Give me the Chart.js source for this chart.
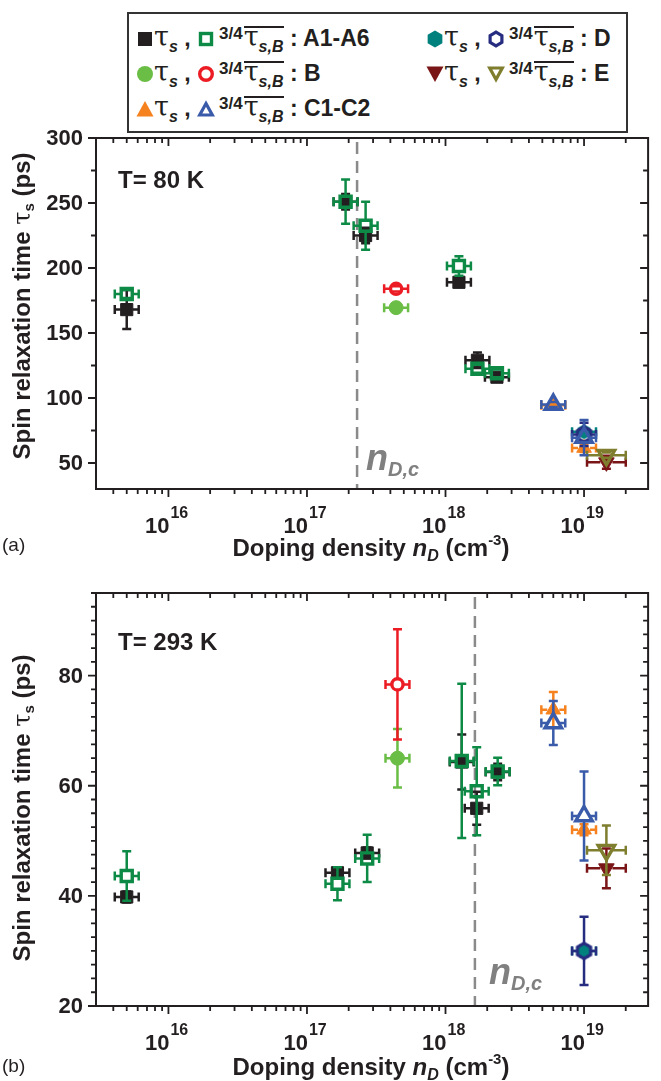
<!DOCTYPE html>
<html>
<head>
<meta charset="utf-8">
<script src="https://cdn.jsdelivr.net/npm/chart.js@4.4.0/dist/chart.umd.min.js"></script>
<style>
  body { margin: 0; background: #fff; }
  #page { position: relative; width: 661px; height: 1081px; overflow: hidden; color: #231f20;
          font-family: "Liberation Sans", Arial, sans-serif; }
  canvas { position: absolute; left: 0; }
  #chartA { top: 0; }
  #chartB { top: 575px; }
  .txt { position: absolute; white-space: nowrap; line-height: 1; font-weight: bold; }
  .tau { font-family: "DejaVu Serif", serif; font-weight: normal; }
  .ytitle { position: absolute; width: 400px; text-align: center; font: bold 24px "Liberation Sans", Arial, sans-serif;
            line-height: 26px; height: 26px; transform: rotate(-90deg); white-space: nowrap; }
  .ytitle sub { font-size: 15px; vertical-align: -4px; line-height: 0; }
  .xtitle { position: absolute; width: 460px; text-align: center; font: bold 24px "Liberation Sans", Arial, sans-serif; line-height: 26px; }
  .xtitle sub { font-size: 16px; vertical-align: -5px; line-height: 0; }
  .xtitle sup { font-size: 15px; vertical-align: 11px; line-height: 0; }
  .ndc { position: absolute; color: #808080; font: italic bold 36px "Liberation Sans", Arial, sans-serif; line-height: 1; white-space: nowrap; }
  .ndc sub { font-size: 20px; vertical-align: -6px; line-height: 0; }
  .panel { position: absolute; font: 19px "Liberation Sans", Arial, sans-serif; line-height: 1; }
  #legend { position: absolute; left: 127px; top: 12px; width: 501px; height: 121px; border: 2px solid #333;
            box-sizing: border-box; background: #fff; z-index: 2; }
  .ent { position: absolute; white-space: nowrap; font: bold 23px "Liberation Sans", Arial, sans-serif; line-height: 28px; height: 28px; }
  .ent svg { vertical-align: -2px; }
  .ent .tau { font-size: 27px; }
  .ent .sb { font: italic bold 16px "Liberation Sans", Arial, sans-serif; vertical-align: -6px; line-height: 0; }
  .ent .fr { font: bold 17px "Liberation Sans", Arial, sans-serif; vertical-align: 7px; margin-left: 4px; line-height: 0; }
  .ent .ol { display: inline-block; border-top: 2px solid #231f20; line-height: 18px; margin-left: 1px; }
</style>
</head>
<body>
<div id="page">
  <canvas id="chartA" width="661" height="575"></canvas>
  <canvas id="chartB" width="661" height="506"></canvas>
  <div id="legend"></div>

  <div class="txt" style="left:118px;top:168px;font-size:24px">T= 80 K</div>
  <div class="txt" style="left:118px;top:630px;font-size:24px">T= 293 K</div>

  <div class="ndc" style="left:366px;top:440px">n<sub>D,c</sub></div>
  <div class="ndc" style="left:489px;top:954px">n<sub>D,c</sub></div>

  <div class="ytitle" style="left:-178px;top:293px">Spin relaxation time <span class="tau">τ</span><sub>s</sub> (ps)</div>
  <div class="ytitle" style="left:-178px;top:795px">Spin relaxation time <span class="tau">τ</span><sub>s</sub> (ps)</div>

  <div class="xtitle" style="left:141px;top:535px">Doping density <i>n</i><sub><i>D</i></sub> (cm<sup>-3</sup>)</div>
  <div class="xtitle" style="left:141px;top:1054px">Doping density <i>n</i><sub><i>D</i></sub> (cm<sup>-3</sup>)</div>

  <div class="panel" style="left:2px;top:535px">(a)</div>
  <div class="panel" style="left:2px;top:1056px">(b)</div>
</div>

<script>
// samples, one inner list per sample in every array below
const samples = ['A1-A6', 'B', 'C1-C2', 'D', 'E'];

// x axis (log), shared by both panels
const xMin = 3e15, xMax = 2.9e19;
const xDecades = [16, 17, 18, 19];

// (a) T = 80 K
const a_x     = [[5e15, 1.9e17, 2.65e17, 1.25e18, 1.7e18, 2.35e18], [4.4e17], [6e18, 1e19], [1e19], [1.45e19]];
const a_ts    = [[168, 251, 225, 189, 129, 116], [169.5], [94.5, 61.5], [74], [50.5]];
const a_tsErr = [[15, 6, 6, 3, 6, 2], [2], [2, 3], [2], [5]];
const a_tb    = [[180, 251, 232.5, 201.5, 122.5, 119], [184], [95, 69.5], [72], [56]];
const a_tbErr = [[3, 17, 18.5, 7.5, 3, 3], [2], [2, 13.5], [9], [2]];
const a_xErr  = [1.22, 1.22, 1.22, 1.22, 1.38];
const a_yMin = 30, a_yMax = 300, a_yStep = 25;
const a_yLabels = [50, 100, 150, 200, 250, 300];
const a_ndc = 2.3e17;

// (b) T = 293 K
const b_x     = [[5e15, 1.66e17, 2.72e17, 1.31e18, 1.68e18, 2.38e18], [4.5e17], [6e18, 1e19], [1e19], [1.45e19]];
const b_ts    = [[39.8, 44.2, 47.8, 64.3, 55.9, 62.5], [65], [73.8, 52], [30], [45]];
const b_tsErr = [[1, 1, 1, 5, 3, 1.5], [5.3], [3.2, 1], [1], [3.6]];
const b_tb    = [[43.6, 42.2, 46.8, 64.5, 59, 62.6], [78.4], [71.4, 54.5], [30], [48.3]];
const b_tbErr = [[4.5, 3, 4.3, 14, 8, 2.5], [10], [4, 8.1], [6.2], [4.5]];
const b_xErr  = [1.22, 1.22, 1.22, 1.22, 1.38];
const b_yMin = 20, b_yMax = 95, b_yStep = 2.5;
const b_yLabels = [20, 40, 60, 80];
const b_ndc = 1.63e18;

const INK = '#231f20';
const tsColor = ['#231f20', '#6abd45', '#f6821f', '#00817e', '#7a1517'];
const tbColor = ['#0d8a45', '#ec1c24', '#3a5ba9', '#262c80', '#7e7e2e'];
const shapes  = ['square', 'circle', 'triangle', 'hexagon', 'tridown'];
const FONT = '"Liberation Sans", Arial, sans-serif';

function hexImage(r, color, filled) {
  const lw = 3.2, s = Math.ceil(2 * r + lw + 2);
  const c = document.createElement('canvas');
  c.width = c.height = s;
  const g = c.getContext('2d');
  g.beginPath();
  for (let k = 0; k < 6; k++) {
    const ang = -Math.PI / 2 + k * Math.PI / 3;
    const px = s / 2 + r * Math.cos(ang), py = s / 2 + r * Math.sin(ang);
    k ? g.lineTo(px, py) : g.moveTo(px, py);
  }
  g.closePath();
  if (filled) { g.fillStyle = color; g.fill(); }
  else { g.strokeStyle = color; g.lineWidth = lw; g.stroke(); }
  return c;
}

function pointOpts(shape, color, filled) {
  const o = {
    pointBorderColor: color,
    pointBackgroundColor: filled ? color : 'rgba(0,0,0,0)',
    pointBorderWidth: filled ? 1 : 3.4,
    pointRotation: 0,
    gap: 6
  };
  switch (shape) {
    case 'square':   o.pointStyle = 'rect';     o.pointRadius = filled ? 8.6 : 7.8; break;
    case 'circle':   o.pointStyle = 'circle';   o.pointRadius = filled ? 7 : 5.6; break;
    case 'triangle': o.pointStyle = 'triangle'; o.pointRadius = filled ? 8.5 : 9.5; break;
    case 'tridown':  o.pointStyle = 'triangle'; o.pointRadius = filled ? 9 : 9.5; o.pointRotation = 180; break;
    case 'hexagon':  o.pointStyle = hexImage(filled ? 7.5 : 7.6, color, filled); o.pointRadius = 8; break;
  }
  return o;
}

function buildDatasets(xs, ts, tsErr, tb, tbErr, xErr) {
  const out = [];
  samples.forEach((name, s) => {
    out.push(Object.assign({
      label: name + ' τs',
      data: xs[s].map((x, i) => ({ x, y: ts[s][i] })),
      yErr: tsErr[s], xErr: xErr[s], color: tsColor[s], order: 2
    }, pointOpts(shapes[s], tsColor[s], true)));
    out.push(Object.assign({
      label: name + ' 3/4 τs,B',
      data: xs[s].map((x, i) => ({ x, y: tb[s][i] })),
      yErr: tbErr[s], xErr: xErr[s], color: tbColor[s], order: 1
    }, pointOpts(shapes[s], tbColor[s], false)));
  });
  return out;
}

// error bars, drawn just under each dataset's markers and stopping at the marker edge
const errorBars = {
  id: 'errorBars',
  beforeDatasetDraw(chart, args) {
    const ds = chart.data.datasets[args.index];
    const { ctx, scales: { x, y } } = chart;
    const cap = 4.5, g = ds.gap;
    ctx.save();
    ctx.strokeStyle = ds.color;
    ctx.lineWidth = 2.5;
    ds.data.forEach((p, i) => {
      const px = x.getPixelForValue(p.x), py = y.getPixelForValue(p.y);
      const e = ds.yErr[i];
      ctx.beginPath();
      if (e) {
        const t = y.getPixelForValue(p.y + e), b = y.getPixelForValue(p.y - e);
        if (py - t > g) { ctx.moveTo(px, t); ctx.lineTo(px, py - g); }
        if (b - py > g) { ctx.moveTo(px, py + g); ctx.lineTo(px, b); }
        ctx.moveTo(px - cap, t); ctx.lineTo(px + cap, t);
        ctx.moveTo(px - cap, b); ctx.lineTo(px + cap, b);
      }
      const l = x.getPixelForValue(p.x / ds.xErr), r = x.getPixelForValue(p.x * ds.xErr);
      ctx.moveTo(l, py); ctx.lineTo(px - g, py);
      ctx.moveTo(px + g, py); ctx.lineTo(r, py);
      ctx.moveTo(l, py - cap); ctx.lineTo(l, py + cap);
      ctx.moveTo(r, py - cap); ctx.lineTo(r, py + cap);
      ctx.stroke();
    });
    ctx.restore();
  }
};

// box, ticks, tick labels and the n_D,c line
function framePlugin(cfg) {
  return {
    id: 'frame',
    beforeDatasetsDraw(chart) {
      const { ctx, chartArea: a, scales: { x } } = chart;
      const px = x.getPixelForValue(cfg.ndc);
      ctx.save();
      ctx.strokeStyle = '#8a8a8a';
      ctx.lineWidth = 2.5;
      ctx.setLineDash([12, 7]);
      ctx.beginPath();
      ctx.moveTo(px, a.top + 4); ctx.lineTo(px, a.bottom);
      ctx.stroke();
      ctx.restore();
    },
    afterDraw(chart) {
      const { ctx, chartArea: a, scales: { x, y } } = chart;
      ctx.save();
      ctx.strokeStyle = INK;
      ctx.fillStyle = INK;
      ctx.lineWidth = 2;
      ctx.strokeRect(a.left, a.top, a.right - a.left, a.bottom - a.top);

      ctx.lineWidth = 1.8;
      ctx.beginPath();
      // x ticks: out at the bottom, in at the top
      for (let e = 15; e <= 19; e++) {
        for (let k = 1; k <= 9; k++) {
          const v = k * Math.pow(10, e);
          if (v <= xMin || v >= xMax) continue;
          const px = x.getPixelForValue(v), len = k === 1 ? 8 : 5;
          ctx.moveTo(px, a.bottom); ctx.lineTo(px, a.bottom + len);
          ctx.moveTo(px, a.top); ctx.lineTo(px, a.top + len);
        }
      }
      // y ticks: out on the left, in on the right
      for (let v = Math.ceil(cfg.yMin / cfg.yStep) * cfg.yStep; v <= cfg.yMax; v += cfg.yStep) {
        const py = y.getPixelForValue(v), len = cfg.yLabels.includes(v) ? 8 : 5;
        ctx.moveTo(a.left, py); ctx.lineTo(a.left - len, py);
        ctx.moveTo(a.right, py); ctx.lineTo(a.right - len, py);
      }
      ctx.stroke();

      ctx.textBaseline = 'middle';
      ctx.textAlign = 'right';
      ctx.font = 'bold 22px ' + FONT;
      cfg.yLabels.forEach(v => ctx.fillText(String(v), a.left - 13, y.getPixelForValue(v) + 1));

      ctx.textBaseline = 'alphabetic';
      xDecades.forEach(n => {
        const px = x.getPixelForValue(Math.pow(10, n));
        ctx.textAlign = 'right';
        ctx.font = 'bold 22px ' + FONT;
        ctx.fillText('10', px + 1, a.bottom + 44);
        ctx.textAlign = 'left';
        ctx.font = 'bold 16px ' + FONT;
        ctx.fillText(String(n), px + 2, a.bottom + 29);
      });
      ctx.restore();
    }
  };
}

function makeChart(id, pad, datasets, cfg) {
  return new Chart(document.getElementById(id), {
    type: 'scatter',
    data: { datasets },
    options: {
      responsive: false,
      animation: false,
      devicePixelRatio: 1,
      events: [],
      layout: { padding: pad },
      plugins: { legend: { display: false }, tooltip: { enabled: false } },
      scales: {
        x: { type: 'logarithmic', min: xMin, max: xMax, display: false },
        y: { type: 'linear', min: cfg.yMin, max: cfg.yMax, display: false }
      }
    },
    plugins: [errorBars, framePlugin(cfg)]
  });
}

makeChart('chartA', { left: 96, right: 3, top: 138, bottom: 86 },
  buildDatasets(a_x, a_ts, a_tsErr, a_tb, a_tbErr, a_xErr),
  { yMin: a_yMin, yMax: a_yMax, yStep: a_yStep, yLabels: a_yLabels, ndc: a_ndc });

makeChart('chartB', { left: 96, right: 3, top: 18, bottom: 75 },
  buildDatasets(b_x, b_ts, b_tsErr, b_tb, b_tbErr, b_xErr),
  { yMin: b_yMin, yMax: b_yMax, yStep: b_yStep, yLabels: b_yLabels, ndc: b_ndc });

// legend (HTML, for the overlined and subscripted symbols)
function markerSVG(shape, color, filled) {
  const f = filled ? color : '#fff', st = filled ? 'none' : color;
  let body = '';
  if (shape === 'square') body = filled ? `<rect x="2" y="2" width="14" height="14" fill="${f}"/>`
                                        : `<rect x="3.5" y="3.5" width="11" height="11" fill="${f}" stroke="${st}" stroke-width="3.4"/>`;
  if (shape === 'circle') body = filled ? `<circle cx="9" cy="9" r="8" fill="${f}"/>`
                                        : `<circle cx="9" cy="9" r="6.3" fill="${f}" stroke="${st}" stroke-width="3.4"/>`;
  if (shape === 'triangle') body = filled ? `<polygon points="9,1 17.5,16.5 0.5,16.5" fill="${f}"/>`
                                          : `<polygon points="9,3.5 15.3,15 2.7,15" fill="${f}" stroke="${st}" stroke-width="3.2"/>`;
  if (shape === 'tridown') body = filled ? `<polygon points="9,17 17.5,1.5 0.5,1.5" fill="${f}"/>`
                                         : `<polygon points="9,14.5 15.3,3 2.7,3" fill="${f}" stroke="${st}" stroke-width="3.2"/>`;
  if (shape === 'hexagon') {
    const r = filled ? 8.5 : 6.8;
    const pts = [0, 1, 2, 3, 4, 5].map(k => {
      const ang = -Math.PI / 2 + k * Math.PI / 3;
      return (9 + r * Math.cos(ang)).toFixed(2) + ',' + (9 + r * Math.sin(ang)).toFixed(2);
    }).join(' ');
    body = `<polygon points="${pts}" fill="${f}" stroke="${st}" stroke-width="3.2"/>`;
  }
  return `<svg width="18" height="18" viewBox="0 0 18 18">${body}</svg>`;
}

const legendPos = [[7, 9], [7, 44], [7, 79], [297, 9], [297, 44]];
const legend = document.getElementById('legend');
samples.forEach((name, s) => {
  const el = document.createElement('div');
  el.className = 'ent';
  el.style.left = legendPos[s][0] + 'px';
  el.style.top = legendPos[s][1] + 'px';
  el.innerHTML = markerSVG(shapes[s], tsColor[s], true) +
    '<span class="tau">τ</span><span class="sb">s</span> , ' +
    markerSVG(shapes[s], tbColor[s], false) +
    '<span class="fr">3/4</span><span class="ol"><span class="tau">τ</span><span class="sb">s,B</span></span> : ' + name;
  legend.appendChild(el);
});
</script>
</body>
</html>
